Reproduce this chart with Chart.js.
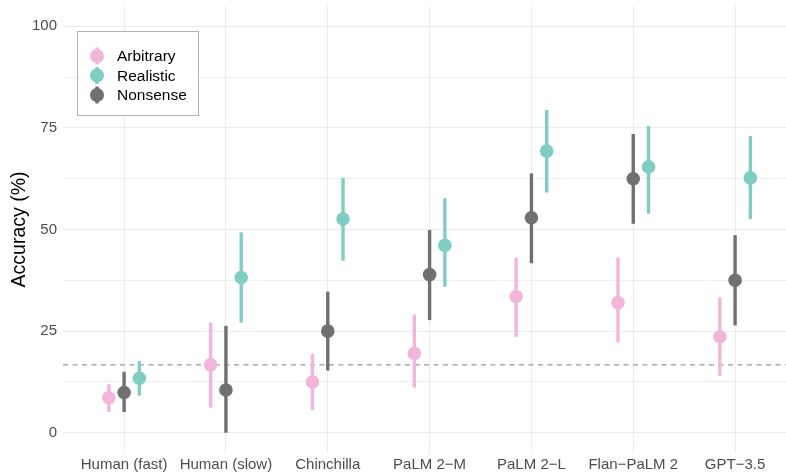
<!DOCTYPE html>
<html lang="en">
<head>
<meta charset="UTF-8">
<title>Accuracy by model</title>
<script src="https://cdn.jsdelivr.net/npm/chart.js"></script>
<style>
    html, body { margin: 0; padding: 0; background: #fff; }
    #wrap { width: 786px; height: 473px; }
</style>
</head>
<body>
<div id="wrap"><canvas id="chart" width="786" height="473"></canvas></div>

<script>
    // categories along the x axis
    const models = ['Human (fast)', 'Human (slow)', 'Chinchilla', 'PaLM 2\u2212M', 'PaLM 2\u2212L', 'Flan\u2212PaLM 2', 'GPT\u22123.5'];

    // point estimates and interval ends per condition (percent)
    const arbitrary     = [8.6, 16.7, 12.5, 19.5, 33.5, 32.0, 23.6];
    const arbitraryLow  = [5.1, 6.2, 5.6, 11.1, 23.6, 22.2, 14.0];
    const arbitraryHigh = [11.9, 27.1, 19.4, 29.1, 43.1, 43.1, 33.3];

    const realistic     = [13.4, 38.2, 52.6, 46.1, 69.3, 65.4, 62.7];
    const realisticLow  = [9.1, 27.1, 42.3, 35.9, 59.1, 53.9, 52.6];
    const realisticHigh = [17.6, 49.3, 62.7, 57.7, 79.4, 75.5, 73.0];

    const nonsense      = [9.9, 10.5, 25.0, 38.9, 52.9, 62.5, 37.5];
    const nonsenseLow   = [5.1, 0.0, 15.3, 27.7, 41.7, 51.4, 26.4];
    const nonsenseHigh  = [15.0, 26.3, 34.7, 49.9, 63.8, 73.5, 48.6];

    const yTicks = [0, 25, 50, 75, 100];
    const chanceLevel = 100 / 6;

    const FONT = '"Liberation Sans", Arial, sans-serif';

    // legend order: Arbitrary, Realistic, Nonsense; dodge order left->right: Arbitrary, Nonsense, Realistic
    const series = [
        { label: 'Arbitrary', mid: arbitrary, low: arbitraryLow, high: arbitraryHigh, color: '#F1B6DA', dodge: -0.15 },
        { label: 'Realistic', mid: realistic, low: realisticLow, high: realisticHigh, color: '#80CDC1', dodge: 0.15 },
        { label: 'Nonsense',  mid: nonsense,  low: nonsenseLow,  high: nonsenseHigh,  color: '#707070', dodge: 0 }
    ];

    const datasets = series.map(s => ({
        label: s.label,
        data: s.mid.map((v, i) => ({ x: i + 1 + s.dodge, y: v, lo: s.low[i], hi: s.high[i] })),
        backgroundColor: s.color,
        borderColor: s.color,
        pointRadius: 6.8,
        pointHoverRadius: 6.8,
        pointBorderWidth: 0,
        showLine: false
    }));

    // chance line + interval segments, drawn under the points
    const rangePlugin = {
        id: 'ranges',
        beforeDatasetsDraw(chart) {
            const ctx = chart.ctx, xs = chart.scales.x, ys = chart.scales.y, area = chart.chartArea;
            ctx.save();
            ctx.strokeStyle = '#999999';
            ctx.lineWidth = 1.2;
            ctx.setLineDash([5, 4.5]);
            const yc = ys.getPixelForValue(chanceLevel);
            ctx.beginPath();
            ctx.moveTo(area.left, yc);
            ctx.lineTo(area.right, yc);
            ctx.stroke();
            ctx.setLineDash([]);
            chart.data.datasets.forEach(ds => {
                ctx.strokeStyle = ds.borderColor;
                ctx.lineWidth = 3.4;
                ds.data.forEach(p => {
                    const x = xs.getPixelForValue(p.x);
                    ctx.beginPath();
                    ctx.moveTo(x, ys.getPixelForValue(p.lo));
                    ctx.lineTo(x, ys.getPixelForValue(p.hi));
                    ctx.stroke();
                });
            });
            ctx.restore();
        }
    };

    // boxed legend inside the panel, top left
    const legendPlugin = {
        id: 'boxLegend',
        afterDraw(chart) {
            const ctx = chart.ctx;
            ctx.save();
            ctx.fillStyle = '#fff';
            ctx.fillRect(77, 31, 121, 84);
            ctx.strokeStyle = '#b3b3b3';
            ctx.lineWidth = 1;
            ctx.strokeRect(77.5, 31.5, 121, 84);
            ctx.font = '15.5px ' + FONT;
            ctx.textBaseline = 'middle';
            chart.data.datasets.forEach((ds, i) => {
                const y = 56 + i * 19.5;
                ctx.strokeStyle = ds.borderColor;
                ctx.lineWidth = 3.4;
                ctx.beginPath();
                ctx.moveTo(97, y - 8.5);
                ctx.lineTo(97, y + 8.5);
                ctx.stroke();
                ctx.fillStyle = ds.backgroundColor;
                ctx.beginPath();
                ctx.arc(97, y, 7, 0, Math.PI * 2);
                ctx.fill();
                ctx.fillStyle = '#000';
                ctx.fillText(ds.label, 117, y + 1);
            });
            ctx.restore();
        }
    };

    new Chart(document.getElementById('chart').getContext('2d'), {
        type: 'scatter',
        data: { datasets: datasets },
        plugins: [rangePlugin, legendPlugin],
        options: {
            responsive: false,
            animation: false,
            layout: { autoPadding: false, padding: { top: 6, right: 0, left: 0, bottom: 0 } },
            plugins: { legend: { display: false }, tooltip: { enabled: false } },
            scales: {
                x: {
                    type: 'linear',
                    min: 0.4,
                    max: 7.5,
                    afterBuildTicks: s => { s.ticks = models.map((m, i) => ({ value: i + 1 })); },
                    afterFit: s => { s.height = 20; s.paddingLeft = 0; s.paddingRight = 0; },
                    ticks: {
                        autoSkip: false,
                        maxRotation: 0,
                        padding: 3,
                        color: '#4d4d4d',
                        font: { size: 15, family: FONT },
                        callback: v => models[Math.round(v) - 1]
                    },
                    grid: { color: '#ebebeb', lineWidth: 1, drawTicks: false },
                    border: { display: false }
                },
                y: {
                    min: -5,
                    max: 105,
                    afterBuildTicks: s => {
                        const t = [];
                        yTicks.forEach((v, i) => {
                            t.push({ value: v });
                            if (i < yTicks.length - 1) t.push({ value: (v + yTicks[i + 1]) / 2 });
                        });
                        s.ticks = t;
                    },
                    afterFit: s => { s.width = 63; s.paddingTop = 0; s.paddingBottom = 0; },
                    ticks: {
                        padding: 6,
                        color: '#4d4d4d',
                        font: { size: 15, family: FONT },
                        callback: v => yTicks.includes(v) ? v : ''
                    },
                    grid: {
                        color: '#ebebeb',
                        lineWidth: c => yTicks.includes(c.tick.value) ? 1.1 : 0.8,
                        drawTicks: false
                    },
                    border: { display: false },
                    title: {
                        display: true,
                        text: 'Accuracy (%)',
                        color: '#000',
                        padding: { top: 8, bottom: 0 },
                        font: { size: 19.5, family: FONT }
                    }
                }
            }
        }
    });
</script>
</body>
</html>
